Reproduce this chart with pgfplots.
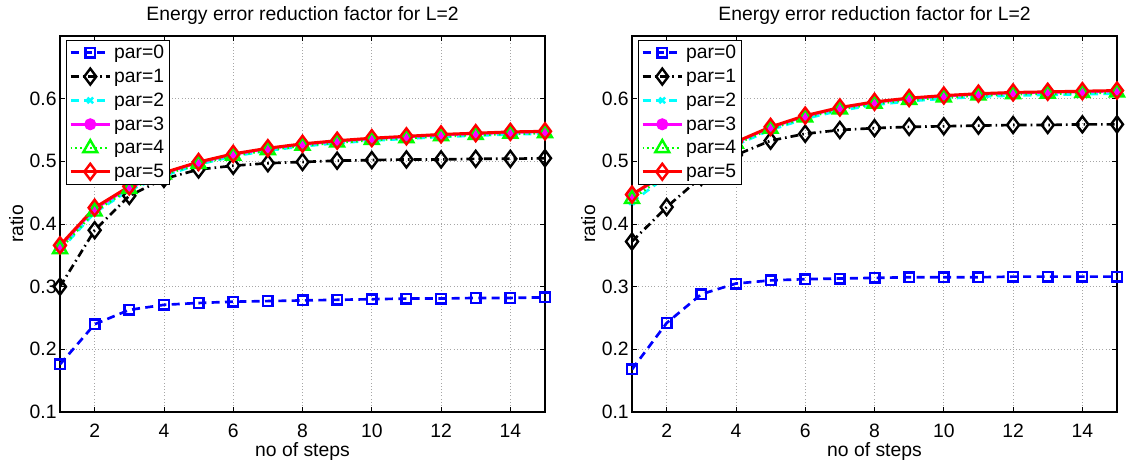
\documentclass[border=0pt]{standalone}
\usepackage{pgfplots}
\pgfplotsset{compat=1.18}
\usepackage{fontspec}
\setmainfont{Liberation Sans}
\definecolor{mblue}{rgb}{0,0,1}
\definecolor{mcyan}{rgb}{0,1,1}
\definecolor{mmag}{rgb}{1,0,1}
\definecolor{mgreen}{rgb}{0,1,0}
\definecolor{mred}{rgb}{1,0,0}
\pgfplotsset{
  mstyle/.style={
    scale only axis, width=363.75pt, height=282pt,
    xmin=1, xmax=15, ymin=0.1, ymax=0.7,
    xtick={2,4,...,14}, ytick={0.1,0.2,...,0.6},
    yticklabel style={/pgf/number format/fixed,/pgf/number format/precision=1, xshift=1pt},
    xticklabel style={yshift=-5.5pt},
    /pgf/number format/assume math mode=true,
    tick align=inside, major tick length=4pt,
    grid=major, major grid style={gray!70, dotted, line width=0.6pt},
    axis line style={line width=0.9pt},
    tick style={black, line width=0.6pt},
    font=\fontsize{14.5}{17}\selectfont,
    title style={font=\fontsize{14.5}{17}\selectfont, yshift=-1pt},
    title={Energy error reduction factor for L=2},
    xlabel={no of steps}, ylabel={ratio},
    xlabel style={yshift=3pt}, ylabel style={yshift=-2pt},
    legend style={at={(0.012,0.99)}, anchor=north west, draw=black, line width=0.9pt,
      font=\fontsize{14.5}{17}\selectfont, inner xsep=2pt, inner ysep=1.5pt, row sep=2.3pt,
      legend cell align=left},
    legend image code/.code={%
      \draw[mark repeat=2,mark phase=2] plot coordinates {(0cm,0cm)(0.52cm,0cm)(1.04cm,0cm)};},
  },
  p0/.style={color=mblue, line width=2pt, dash pattern=on 6pt off 4pt, mark=square, mark size=3.6pt, mark options={solid, line width=1.8pt}},
  p1/.style={color=black, line width=2pt, dash pattern=on 6pt off 3pt on 1.2pt off 3pt, mark=diamond, mark size=6pt, mark options={solid, line width=1.8pt}},
  p2/.style={color=mcyan, line width=2pt, dash pattern=on 6pt off 4pt, mark=x, mark size=3pt, mark options={solid, line width=1.8pt}},
  p3/.style={color=mmag, line width=2pt, solid, mark=*, mark size=3.5pt, mark options={solid}},
  p4/.style={color=mgreen, line width=2pt, dash pattern=on 1.2pt off 2.5pt, mark=triangle, mark size=6pt, mark options={solid, line width=1.8pt}},
  p5/.style={color=mred, line width=2.2pt, solid, mark=diamond, mark size=6pt, mark options={solid, line width=1.8pt}},
}
\begin{document}
\begin{tikzpicture}
\path[use as bounding box] (-45pt,-39pt) rectangle (801pt,309pt);
\begin{axis}[mstyle, at={(0pt,0pt)}, anchor=origin]
\addplot[p0] coordinates {(1,0.176)(2,0.240)(3,0.263)(4,0.271)(5,0.274)(6,0.276)(7,0.277)(8,0.278)(9,0.279)(10,0.280)(11,0.281)(12,0.281)(13,0.282)(14,0.282)(15,0.283)};
\addlegendentry{par=0}
\addplot[p1] coordinates {(1,0.300)(2,0.390)(3,0.445)(4,0.472)(5,0.487)(6,0.493)(7,0.497)(8,0.499)(9,0.501)(10,0.502)(11,0.503)(12,0.503)(13,0.504)(14,0.504)(15,0.505)};
\addlegendentry{par=1}
\addplot[p2] coordinates {(1,0.358)(2,0.418)(3,0.454)(4,0.477)(5,0.495)(6,0.508)(7,0.517)(8,0.524)(9,0.529)(10,0.533)(11,0.536)(12,0.539)(13,0.541)(14,0.543)(15,0.544)};
\addlegendentry{par=2}
\addplot[p3] coordinates {(1,0.364)(2,0.424)(3,0.458)(4,0.481)(5,0.498)(6,0.511)(7,0.520)(8,0.527)(9,0.532)(10,0.536)(11,0.539)(12,0.542)(13,0.544)(14,0.546)(15,0.547)};
\addlegendentry{par=3}
\addplot[p4] coordinates {(1,0.360)(2,0.420)(3,0.456)(4,0.479)(5,0.496)(6,0.509)(7,0.518)(8,0.525)(9,0.530)(10,0.534)(11,0.537)(12,0.540)(13,0.542)(14,0.544)(15,0.545)};
\addlegendentry{par=4}
\addplot[p5] coordinates {(1,0.366)(2,0.426)(3,0.460)(4,0.482)(5,0.499)(6,0.512)(7,0.521)(8,0.528)(9,0.533)(10,0.537)(11,0.540)(12,0.543)(13,0.545)(14,0.547)(15,0.548)};
\addlegendentry{par=5}
\end{axis}
\begin{axis}[mstyle, at={(429pt,0pt)}, anchor=origin]
\addplot[p0] coordinates {(1,0.168)(2,0.242)(3,0.288)(4,0.305)(5,0.310)(6,0.312)(7,0.313)(8,0.314)(9,0.315)(10,0.315)(11,0.315)(12,0.316)(13,0.316)(14,0.316)(15,0.316)};
\addlegendentry{par=0}
\addplot[p1] coordinates {(1,0.372)(2,0.427)(3,0.475)(4,0.510)(5,0.533)(6,0.544)(7,0.550)(8,0.553)(9,0.555)(10,0.556)(11,0.557)(12,0.558)(13,0.558)(14,0.559)(15,0.559)};
\addlegendentry{par=1}
\addplot[p2] coordinates {(1,0.435)(2,0.476)(3,0.503)(4,0.526)(5,0.550)(6,0.568)(7,0.581)(8,0.590)(9,0.596)(10,0.600)(11,0.603)(12,0.605)(13,0.606)(14,0.607)(15,0.608)};
\addlegendentry{par=2}
\addplot[p3] coordinates {(1,0.446)(2,0.481)(3,0.507)(4,0.530)(5,0.554)(6,0.572)(7,0.585)(8,0.594)(9,0.600)(10,0.604)(11,0.607)(12,0.609)(13,0.610)(14,0.611)(15,0.612)};
\addlegendentry{par=3}
\addplot[p4] coordinates {(1,0.440)(2,0.479)(3,0.505)(4,0.528)(5,0.552)(6,0.570)(7,0.583)(8,0.592)(9,0.598)(10,0.602)(11,0.605)(12,0.607)(13,0.608)(14,0.609)(15,0.610)};
\addlegendentry{par=4}
\addplot[p5] coordinates {(1,0.447)(2,0.482)(3,0.508)(4,0.531)(5,0.555)(6,0.573)(7,0.586)(8,0.595)(9,0.601)(10,0.605)(11,0.608)(12,0.610)(13,0.611)(14,0.612)(15,0.613)};
\addlegendentry{par=5}
\end{axis}
\end{tikzpicture}
\end{document}
